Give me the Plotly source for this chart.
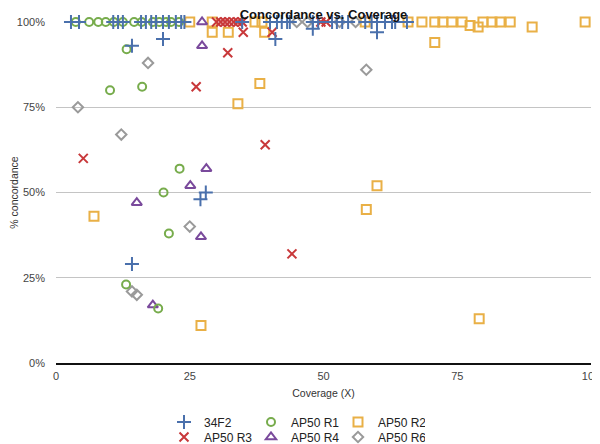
import plotly.graph_objects as go

# ---- data (coverage X, % concordance) ----
s34f2_x = [2.8, 4.3, 10.7, 11.6, 12.5, 15.9, 16.8, 17.8, 18.7, 20, 21.1, 22.4, 23.4, 24, 34.8, 40, 41.3, 42.2, 43.2, 43.7, 48, 49,
           51.6, 52.5, 53.5, 54.6, 57.8, 59, 60, 61.5, 62.8, 63.4, 65.6,
           14.2, 20, 41, 60, 48, 28, 27, 14.2]
s34f2_y = [100] * 33 + [93, 95, 95, 97, 98, 50, 48, 29]

r1_x = [3.7, 6.2, 7.9, 9.3, 10.8, 12.5, 14.6, 16, 18.1, 19.3, 20.6, 21.5, 23,
        13.2, 10.1, 16.1, 23.1, 20.1, 21.1, 13.1, 19.1]
r1_y = [100] * 13 + [92, 80, 81, 57, 50, 38, 23, 16]

r2_x = [25, 29.2, 37.2, 38.5, 57.8, 65.8, 68.4, 70.8, 72.3, 74, 75.9, 79.8, 81.5, 83, 84.9, 98.9,
        77.4, 78.9, 89, 29.2, 32.2, 39, 70.8, 38.1, 34, 60, 58, 7.1, 27.1, 79.1]
r2_y = [100] * 16 + [99, 98.5, 98.5, 97, 97, 97, 94, 82, 76, 52, 45, 43, 11, 13]

r3_x = [30, 30.8, 31.6, 32.4, 33.2, 34, 34.8, 49.5, 50.5,
        35, 40.4, 32.1, 26.2, 39.1, 5.1, 44.1]
r3_y = [100] * 9 + [97, 97, 91, 81, 64, 60, 32]

r4_x = [27.3, 27.3, 28.1, 25.1, 15.1, 27.1, 18.1]
r4_y = [100, 93, 57, 52, 47, 37, 17]

r6_x = [45, 47, 53, 56, 17.2, 58, 4.1, 12.2, 25, 14.2, 15.1]
r6_y = [100, 100, 100, 100, 88, 86, 75, 67, 40, 21, 20]

series_names = ["34F2", "AP50 R1", "AP50 R2", "AP50 R3", "AP50 R4", "AP50 R6"]
x_ticks = [0, 25, 50, 75, 100]
y_ticks = [0, 25, 50, 75, 100]

BLUE = "#4a70ac"
GREEN = "#77ac4c"
ORANGE = "#e9b046"
RED = "#c8383a"
PURPLE = "#7a4a9c"
GRAY = "#9a9a9a"

styles = {
    "34F2": dict(x=s34f2_x, y=s34f2_y, symbol="cross-thin", color=BLUE, size=10, legend="legend", rank=1),
    "AP50 R1": dict(x=r1_x, y=r1_y, symbol="circle-open", color=GREEN, size=8, legend="legend", rank=2),
    "AP50 R2": dict(x=r2_x, y=r2_y, symbol="square-open", color=ORANGE, size=9, legend="legend", rank=3),
    "AP50 R3": dict(x=r3_x, y=r3_y, symbol="x-thin", color=RED, size=9, legend="legend2", rank=1),
    "AP50 R4": dict(x=r4_x, y=r4_y, symbol="triangle-up-open", color=PURPLE, size=9, legend="legend2", rank=2),
    "AP50 R6": dict(x=r6_x, y=r6_y, symbol="diamond-open", color=GRAY, size=8, legend="legend2", rank=3),
}

draw_order = ["AP50 R2", "AP50 R6", "AP50 R4", "AP50 R3", "AP50 R1", "34F2"]

fig = go.Figure()
for name in draw_order:
    s = styles[name]
    fig.add_trace(go.Scatter(
        x=s["x"], y=s["y"], mode="markers", name=name, cliponaxis=False,
        legend=s["legend"], legendrank=s["rank"],
        marker=dict(symbol=s["symbol"], size=s["size"], color=s["color"],
                    line=dict(color=s["color"], width=2)),
    ))

# page body has an 8px margin, so the figure is sized to the visible area
W, H = 592, 436
FONT = "Liberation Sans, Arial, sans-serif"
legend_common = dict(orientation="h", xref="container", yref="container",
                     xanchor="left", yanchor="middle", entrywidth=42, entrywidthmode="pixels",
                     font=dict(family=FONT, size=12, color="#222"), bgcolor="rgba(0,0,0,0)",
                     itemwidth=30, tracegroupgap=0, traceorder="normal")

fig.update_layout(
    width=W, height=H,
    margin=dict(l=48, r=9, t=14, b=81, autoexpand=False),
    paper_bgcolor="white", plot_bgcolor="white",
    font=dict(family=FONT, size=10, color="#333"),
    title=dict(text="<b>Concordance vs. Coverage</b>", x=315.5 / W, xanchor="center",
               yref="container", y=1 - 1.5 / H, yanchor="top", pad=dict(t=0, b=0),
               font=dict(size=13, color="#111", family=FONT)),
    xaxis=dict(range=[0, 100], tickvals=x_ticks, ticktext=[str(v) for v in x_ticks],
               showgrid=False, zeroline=False, showline=True, linecolor="#111", linewidth=1.5,
               ticks="", automargin=False, ticklabelstandoff=2, ticklabeloverflow="allow",
               title=dict(text="Coverage (X)", font=dict(size=10.5, color="#333"), standoff=9),
               tickfont=dict(size=11, color="#444")),
    yaxis=dict(range=[0, 100], tickvals=y_ticks, ticktext=[f"{v}%" for v in y_ticks],
               showgrid=True, gridcolor="#c4c4c4", gridwidth=1, zeroline=False, showline=False,
               ticks="", automargin=False, ticklabelstandoff=10, ticklabeloverflow="allow",
               title=dict(text="% concordance", font=dict(size=10.5, color="#333"), standoff=0),
               tickfont=dict(size=11, color="#444")),
    legend=dict(x=156 / W, y=1 - 414 / H, **legend_common),
    legend2=dict(x=156 / W, y=1 - 429 / H, **legend_common),
    showlegend=True,
)

fig.write_html("out.html")
